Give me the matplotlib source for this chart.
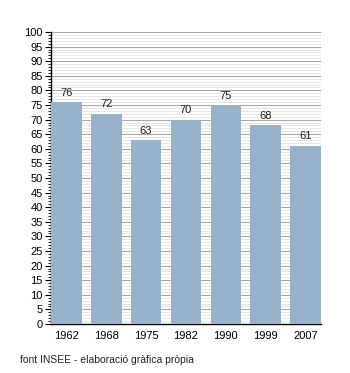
import numpy as np
import matplotlib.pyplot as plt
from matplotlib.ticker import MultipleLocator

years = ['1962', '1968', '1975', '1982', '1990', '1999', '2007']
values = [76, 72, 63, 70, 75, 68, 61]

plt.rcParams['font.family'] = ['Liberation Sans', 'DejaVu Sans']

fig = plt.figure(figsize=(3.5, 3.73), dpi=100)
ax = fig.add_axes([0.1457, 0.1314, 0.7714, 0.7828])

w = 0.77
x = np.arange(len(years))
bars = ax.bar(x, values, width=w, color='#98b2cb', zorder=3)
for xi, v in zip(x, values):
    ax.text(xi, v + 1.5, str(v), ha='center', va='bottom', fontsize=8, color='#222222', zorder=4)

ax.set_xlim(-w / 2, len(years) - 1 + w / 2)
ax.set_ylim(0, 100)
ax.set_xticks(x)
ax.set_xticklabels(years)
ax.yaxis.set_major_locator(MultipleLocator(5))
ax.yaxis.set_minor_locator(MultipleLocator(1))

ax.grid(which='major', axis='y', color='#aaaaaa', linewidth=0.8, zorder=1)
ax.grid(which='minor', axis='y', color='#e2e2e2', linewidth=0.6, zorder=0)

for s in ['top', 'right']:
    ax.spines[s].set_visible(False)
ax.spines['left'].set_linewidth(1.0)
ax.spines['bottom'].set_linewidth(1.0)

ax.tick_params(axis='y', which='major', length=4, width=0.8, labelsize=8, pad=2)
ax.tick_params(axis='y', which='minor', length=2, width=0.6)
ax.tick_params(axis='x', length=0, labelsize=8, pad=5)

fig.text(20 / 350, 1 - 360 / 373, 'font INSEE - elaboració gràfica pròpia', fontsize=7.5, va='center', ha='left', color='#222222')

fig.savefig('out.png', dpi=100)
